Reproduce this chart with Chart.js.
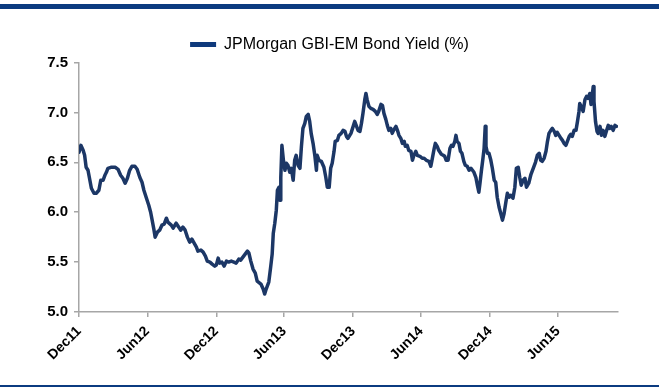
<!DOCTYPE html>
<html>
<head>
<meta charset="utf-8">
<script src="https://cdn.jsdelivr.net/npm/chart.js@4/dist/chart.umd.min.js"></script>
<style>
  html, body { margin: 0; padding: 0; background: #ffffff; }
  #wrap { position: relative; width: 659px; height: 392px; overflow: hidden; }
  #topRule { position: absolute; left: 0; top: 4px; width: 659px; height: 5px; background: #0b3b80; }
  #bottomRule { position: absolute; left: 0; top: 385px; width: 659px; height: 2px; background: #0b3b80; }
  canvas { position: absolute; left: 0; top: 0; }
</style>
</head>
<body>
<div id="wrap">
  <canvas id="chart" width="659" height="392"></canvas>
  <div id="topRule"></div>
  <div id="bottomRule"></div>
</div>
<script>
// Days elapsed since 1 Dec 2011
const days = [
  0, 5, 11, 15, 19, 24, 29, 33, 40, 46, 53, 58, 64, 69, 73, 77, 85, 91, 97, 104,
  111, 117, 123, 129, 135, 141, 149, 155, 162, 168, 173, 179, 186, 191, 195, 200, 203, 209, 215, 221,
  227, 233, 237, 246, 251, 259, 266, 271, 277, 283, 289, 295, 301, 307, 313, 317, 325, 331, 337, 342,
  349, 355, 362, 366, 371, 375, 381, 387, 393, 399, 406, 413, 419, 426, 431, 437, 443, 449, 453, 458,
  464, 470, 475, 485, 491, 495, 499, 506, 511, 515, 518, 522, 526, 529, 533, 536, 538, 541, 545, 549,
  553, 557, 562, 566, 571, 575, 579, 584, 589, 593, 597, 602, 606, 611, 615, 619, 624, 629, 633, 635,
  640, 646, 653, 658, 662, 667, 671, 675, 680, 683, 689, 693, 699, 704, 709, 713, 717, 725, 731, 735,
  739, 744, 749, 753, 757, 762, 765, 768, 773, 778, 784, 790, 795, 799, 805, 809, 813, 818, 822, 826,
  831, 835, 840, 845, 849, 853, 858, 862, 867, 870, 875, 879, 885, 889, 893, 898, 902, 909, 915, 920,
  926, 933, 938, 941, 947, 950, 955, 959, 966, 971, 975, 979, 984, 989, 993, 997, 1002, 1005, 1008, 1013,
  1017, 1021, 1026, 1030, 1035, 1040, 1045, 1049, 1053, 1058, 1062, 1066, 1069, 1073, 1077, 1080, 1083, 1085, 1089, 1093,
  1098, 1102, 1107, 1111, 1115, 1120, 1125, 1129, 1133, 1138, 1142, 1147, 1151, 1157, 1162, 1166, 1171, 1175, 1179, 1184,
  1189, 1193, 1199, 1205, 1211, 1217, 1222, 1227, 1231, 1235, 1240, 1245, 1249, 1253, 1258, 1262, 1267, 1271, 1275, 1280,
  1285, 1289, 1293, 1298, 1302, 1307, 1311, 1315, 1320, 1325, 1329, 1333, 1335, 1339, 1344, 1349, 1353, 1357, 1362, 1365,
  1368, 1371, 1373, 1377, 1381, 1384, 1389, 1393, 1397, 1402, 1406, 1411, 1415, 1419, 1424, 1429, 1433
];

// JPMorgan GBI-EM bond yield, %
const yields = [
  6.60, 6.67, 6.62, 6.57, 6.45, 6.42, 6.32, 6.24, 6.19, 6.19, 6.22, 6.32, 6.32, 6.37, 6.40, 6.44, 6.45, 6.45, 6.45, 6.43,
  6.37, 6.34, 6.29, 6.34, 6.42, 6.46, 6.46, 6.43, 6.35, 6.30, 6.22, 6.15, 6.07, 6.00, 5.92, 5.82, 5.75, 5.80, 5.82, 5.87,
  5.88, 5.94, 5.90, 5.87, 5.84, 5.89, 5.85, 5.82, 5.85, 5.82, 5.75, 5.70, 5.73, 5.69, 5.65, 5.61, 5.62, 5.60, 5.56, 5.51,
  5.50, 5.48, 5.46, 5.47, 5.54, 5.49, 5.50, 5.46, 5.51, 5.50, 5.51, 5.50, 5.49, 5.53, 5.52, 5.55, 5.58, 5.61, 5.59, 5.51,
  5.43, 5.39, 5.31, 5.28, 5.23, 5.18, 5.23, 5.30, 5.45, 5.58, 5.79, 5.89, 6.02, 6.22, 6.25, 6.12, 6.35, 6.67, 6.52, 6.42,
  6.49, 6.47, 6.40, 6.44, 6.32, 6.52, 6.57, 6.47, 6.44, 6.66, 6.84, 6.89, 6.96, 6.98, 6.91, 6.79, 6.69, 6.56, 6.42, 6.57,
  6.52, 6.51, 6.45, 6.35, 6.25, 6.25, 6.44, 6.49, 6.61, 6.71, 6.72, 6.77, 6.79, 6.82, 6.81, 6.76, 6.74, 6.79, 6.86, 6.91,
  6.87, 6.82, 6.81, 6.89, 6.99, 7.13, 7.19, 7.13, 7.06, 7.04, 7.03, 7.01, 6.98, 7.01, 7.08, 7.07, 6.99, 6.93, 6.87, 6.82,
  6.84, 6.79, 6.83, 6.86, 6.82, 6.77, 6.74, 6.69, 6.71, 6.66, 6.67, 6.62, 6.61, 6.52, 6.57, 6.61, 6.57, 6.56, 6.54, 6.54,
  6.52, 6.51, 6.46, 6.52, 6.64, 6.69, 6.66, 6.62, 6.58, 6.57, 6.56, 6.52, 6.52, 6.64, 6.67, 6.66, 6.71, 6.77, 6.71, 6.69,
  6.61, 6.59, 6.51, 6.47, 6.46, 6.42, 6.44, 6.42, 6.40, 6.35, 6.27, 6.20, 6.29, 6.42, 6.54, 6.64, 6.86, 6.66, 6.59, 6.59,
  6.52, 6.44, 6.32, 6.30, 6.15, 6.05, 5.98, 5.92, 5.98, 6.10, 6.19, 6.15, 6.17, 6.14, 6.25, 6.44, 6.45, 6.35, 6.27, 6.32,
  6.34, 6.25, 6.29, 6.38, 6.44, 6.50, 6.57, 6.59, 6.52, 6.51, 6.54, 6.61, 6.71, 6.79, 6.82, 6.84, 6.81, 6.77, 6.80, 6.77,
  6.74, 6.72, 6.69, 6.67, 6.71, 6.76, 6.78, 6.76, 6.82, 6.82, 6.91, 7.01, 7.09, 7.06, 7.01, 7.13, 7.16, 7.14, 7.19, 7.08,
  7.16, 7.26, 7.11, 6.91, 6.81, 6.79, 6.86, 6.77, 6.82, 6.76, 6.81, 6.87, 6.84, 6.86, 6.82, 6.87, 6.86
];

// Half-year tick positions (days since 1 Dec 2011) and their labels
const tickDays = [0, 182, 366, 547, 731, 912, 1096, 1277];
const tickLabels = ['Dec11', 'Jun12', 'Dec12', 'Jun13', 'Dec13', 'Jun14', 'Dec14', 'Jun15'];
const seriesName = 'JPMorgan GBI-EM Bond Yield (%)';

const FONT = 'Arial, "Liberation Sans", sans-serif';
const AXIS_GREY = '#a6a6a6';
const LINE_NAVY = '#1c3766';
const LEGEND_BLUE = '#0f3a7c';

new Chart(document.getElementById('chart'), {
  type: 'line',
  data: {
    datasets: [{
      label: seriesName,
      data: days.map((d, i) => ({ x: d, y: yields[i] })),
      borderColor: LINE_NAVY,
      backgroundColor: LINE_NAVY,
      borderWidth: 3.5,
      pointRadius: 0,
      tension: 0,
      borderJoinStyle: 'round',
      borderCapStyle: 'round'
    }]
  },
  options: {
    responsive: false,
    animation: false,
    layout: { padding: { left: 0, right: 0, top: 31, bottom: 17 } },
    plugins: {
      tooltip: { enabled: false },
      legend: {
        display: true,
        position: 'top',
        align: 'center',
        labels: {
          boxWidth: 26,
          boxHeight: 5,
          padding: 5.5,
          color: '#000000',
          font: { family: FONT, size: 16 },
          generateLabels: () => [{
            text: seriesName,
            fillStyle: LEGEND_BLUE,
            strokeStyle: LEGEND_BLUE,
            lineWidth: 0,
            datasetIndex: 0
          }]
        }
      }
    },
    scales: {
      x: {
        type: 'linear',
        min: 0,
        max: 1437,
        afterBuildTicks: (scale) => { scale.ticks = tickDays.map(v => ({ value: v })); },
        afterFit: (scale) => { scale.height = 63; },
        ticks: {
          autoSkip: false,
          minRotation: 45,
          maxRotation: 45,
          padding: 6,
          color: '#000000',
          font: { family: FONT, size: 14, weight: 'bold' },
          callback: (v) => tickLabels[tickDays.indexOf(v)]
        },
        grid: { drawOnChartArea: false, drawTicks: true, tickLength: 5, color: AXIS_GREY, lineWidth: 1.5 },
        border: { color: AXIS_GREY, width: 1.5 }
      },
      y: {
        min: 5.0,
        max: 7.5,
        afterFit: (scale) => { scale.width = 79; },
        ticks: {
          stepSize: 0.5,
          padding: 6,
          color: '#000000',
          font: { family: FONT, size: 15, weight: 'bold' },
          callback: (v) => v.toFixed(1)
        },
        grid: { drawOnChartArea: false, drawTicks: true, tickLength: 5, color: AXIS_GREY, lineWidth: 1.5 },
        border: { color: AXIS_GREY, width: 1.5 }
      },
      // empty right-hand margin so the plot ends where the axis ends
      yRight: {
        position: 'right',
        min: 5.0,
        max: 7.5,
        afterFit: (scale) => { scale.width = 41; },
        ticks: { display: false },
        grid: { display: false, drawTicks: false },
        border: { display: false }
      }
    }
  }
});
</script>
</body>
</html>
